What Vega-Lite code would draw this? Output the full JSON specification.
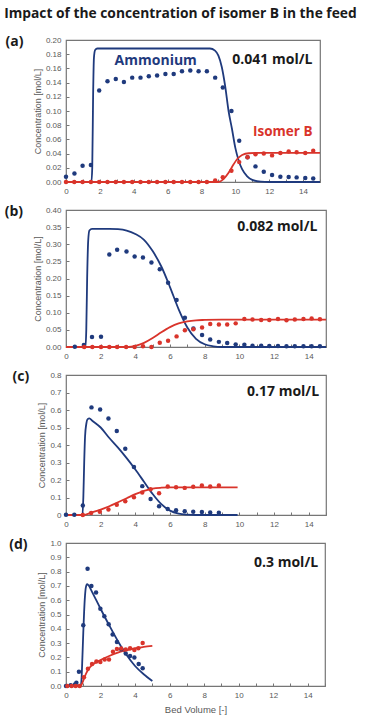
{
  "$schema": "https://vega.github.io/schema/vega-lite/v6.json",
  "background": "white",
  "padding": {"left": 4, "top": 6, "right": 4, "bottom": 4},
  "title": {"text": "Impact of the concentration of isomer B in the feed", "orient": "top", "anchor": "start", "frame": "bounds", "font": "Open Sans", "fontWeight": "bold", "fontSize": 13.8, "color": "#1a1a1a", "offset": 14},
  "spacing": 8,
  "align": "none",
  "config": {
    "view": {"stroke": "#767676", "strokeWidth": 1.2},
    "axis": {"domain": false, "grid": false, "tickColor": "#767676", "tickSize": -3, "tickCount": 30, "labelFont": "Liberation Sans", "labelFontSize": 8, "labelColor": "#595959", "labelPadding": 8, "labelOverlap": false, "labelFlush": false, "titleFont": "Liberation Sans", "titleFontSize": 9, "titleFontWeight": "normal", "titleColor": "#595959", "titlePadding": 3},
    "circle": {"size": 20, "opacity": 1},
    "line": {"strokeWidth": 1.8, "interpolate": "monotone"},
    "text": {"font": "Open Sans", "fontWeight": "bold", "fontSize": 14, "color": "#1a1a1a"}
  },
  "vconcat": [
    {
      "width": 254, "height": 142,
      "title": {"text": "(a)", "font": "Open Sans", "fontWeight": "bold", "fontSize": 14, "color": "#1a1a1a", "orient": "left", "anchor": "end", "angle": 0, "align": "right", "baseline": "top", "offset": -8, "dy": -1},
      "layer": [
        {
          "data": {"values": [
            {"s": "Ammonium", "x": 0, "c": 0}, {"s": "Ammonium", "x": 1.5, "c": 0}, {"s": "Ammonium", "x": 1.55, "c": 0.02}, {"s": "Ammonium", "x": 1.6, "c": 0.12}, {"s": "Ammonium", "x": 1.65, "c": 0.175}, {"s": "Ammonium", "x": 1.72, "c": 0.186}, {"s": "Ammonium", "x": 1.85, "c": 0.188}, {"s": "Ammonium", "x": 8.5, "c": 0.188}, {"s": "Ammonium", "x": 8.8, "c": 0.185}, {"s": "Ammonium", "x": 9.0, "c": 0.178}, {"s": "Ammonium", "x": 9.2, "c": 0.162}, {"s": "Ammonium", "x": 9.4, "c": 0.135}, {"s": "Ammonium", "x": 9.6, "c": 0.1}, {"s": "Ammonium", "x": 9.8, "c": 0.075}, {"s": "Ammonium", "x": 10.0, "c": 0.048}, {"s": "Ammonium", "x": 10.2, "c": 0.03}, {"s": "Ammonium", "x": 10.4, "c": 0.018}, {"s": "Ammonium", "x": 10.7, "c": 0.008}, {"s": "Ammonium", "x": 11.0, "c": 0.003}, {"s": "Ammonium", "x": 11.5, "c": 0.0005}, {"s": "Ammonium", "x": 12, "c": 0}, {"s": "Ammonium", "x": 15, "c": 0},
            {"s": "Isomer B", "x": 0, "c": 0}, {"s": "Isomer B", "x": 9.0, "c": 0}, {"s": "Isomer B", "x": 9.3, "c": 0.004}, {"s": "Isomer B", "x": 9.6, "c": 0.013}, {"s": "Isomer B", "x": 9.9, "c": 0.025}, {"s": "Isomer B", "x": 10.1, "c": 0.032}, {"s": "Isomer B", "x": 10.4, "c": 0.038}, {"s": "Isomer B", "x": 10.8, "c": 0.0405}, {"s": "Isomer B", "x": 11.5, "c": 0.041}, {"s": "Isomer B", "x": 15, "c": 0.041}
          ]},
          "mark": {"type": "line"},
          "encoding": {
            "x": {"field": "x", "type": "quantitative", "scale": {"domain": [0, 15], "nice": false}, "axis": {"title": null, "format": "d", "values": [0,1,2,3,4,5,6,7,8,9,10,11,12,13,14,15], "labelExpr": "datum.value % 2 == 0 && datum.value < 15 ? datum.label : ''"}},
            "y": {"field": "c", "type": "quantitative", "scale": {"domain": [0, 0.2], "nice": false}, "axis": {"title": "Concentration [mol/L]", "values": [0,0.02,0.04,0.06,0.08,0.1,0.12,0.14,0.16,0.18,0.2], "format": ".2f"}},
            "color": {"field": "s", "type": "nominal", "scale": {"domain": ["Ammonium", "Isomer B"], "range": ["#1f3a7d", "#d9342b"]}, "legend": null},
            "detail": {"field": "s"}
          }
        },
        {
          "data": {"values": [
            {"s": "Ammonium", "x": 0, "c": 0.0075}, {"s": "Ammonium", "x": 0.5, "c": 0.012}, {"s": "Ammonium", "x": 0.98, "c": 0.023}, {"s": "Ammonium", "x": 1.47, "c": 0.024}, {"s": "Ammonium", "x": 1.96, "c": 0.129}, {"s": "Ammonium", "x": 2.45, "c": 0.142}, {"s": "Ammonium", "x": 2.94, "c": 0.145}, {"s": "Ammonium", "x": 3.42, "c": 0.141}, {"s": "Ammonium", "x": 3.91, "c": 0.147}, {"s": "Ammonium", "x": 4.4, "c": 0.147}, {"s": "Ammonium", "x": 4.89, "c": 0.149}, {"s": "Ammonium", "x": 5.38, "c": 0.15}, {"s": "Ammonium", "x": 5.87, "c": 0.152}, {"s": "Ammonium", "x": 6.36, "c": 0.152}, {"s": "Ammonium", "x": 6.85, "c": 0.156}, {"s": "Ammonium", "x": 7.34, "c": 0.157}, {"s": "Ammonium", "x": 7.83, "c": 0.156}, {"s": "Ammonium", "x": 8.32, "c": 0.156}, {"s": "Ammonium", "x": 8.81, "c": 0.147}, {"s": "Ammonium", "x": 9.26, "c": 0.133}, {"s": "Ammonium", "x": 9.77, "c": 0.1}, {"s": "Ammonium", "x": 10.23, "c": 0.058}, {"s": "Ammonium", "x": 10.72, "c": 0.035}, {"s": "Ammonium", "x": 11.19, "c": 0.022}, {"s": "Ammonium", "x": 11.68, "c": 0.0145}, {"s": "Ammonium", "x": 12.17, "c": 0.01}, {"s": "Ammonium", "x": 12.66, "c": 0.0075}, {"s": "Ammonium", "x": 13.15, "c": 0.007}, {"s": "Ammonium", "x": 13.62, "c": 0.0065}, {"s": "Ammonium", "x": 14.13, "c": 0.0056}, {"s": "Ammonium", "x": 14.6, "c": 0.005},
            {"s": "Isomer B", "x": 0, "c": 0}, {"s": "Isomer B", "x": 0.49, "c": 0}, {"s": "Isomer B", "x": 0.98, "c": 0}, {"s": "Isomer B", "x": 1.47, "c": 0}, {"s": "Isomer B", "x": 1.96, "c": 0}, {"s": "Isomer B", "x": 2.45, "c": 0}, {"s": "Isomer B", "x": 2.94, "c": 0}, {"s": "Isomer B", "x": 3.42, "c": 0}, {"s": "Isomer B", "x": 3.91, "c": 0}, {"s": "Isomer B", "x": 4.4, "c": 0}, {"s": "Isomer B", "x": 4.89, "c": 0}, {"s": "Isomer B", "x": 5.38, "c": 0}, {"s": "Isomer B", "x": 5.87, "c": 0}, {"s": "Isomer B", "x": 6.36, "c": 0}, {"s": "Isomer B", "x": 6.85, "c": 0}, {"s": "Isomer B", "x": 7.34, "c": 0}, {"s": "Isomer B", "x": 7.83, "c": 0}, {"s": "Isomer B", "x": 8.32, "c": 0}, {"s": "Isomer B", "x": 8.81, "c": 0.002}, {"s": "Isomer B", "x": 9.26, "c": 0.0066}, {"s": "Isomer B", "x": 9.77, "c": 0.016}, {"s": "Isomer B", "x": 10.23, "c": 0.028}, {"s": "Isomer B", "x": 10.72, "c": 0.035}, {"s": "Isomer B", "x": 11.19, "c": 0.039}, {"s": "Isomer B", "x": 11.68, "c": 0.04}, {"s": "Isomer B", "x": 12.17, "c": 0.0375}, {"s": "Isomer B", "x": 12.66, "c": 0.041}, {"s": "Isomer B", "x": 13.15, "c": 0.043}, {"s": "Isomer B", "x": 13.62, "c": 0.042}, {"s": "Isomer B", "x": 14.13, "c": 0.041}, {"s": "Isomer B", "x": 14.6, "c": 0.044}
          ]},
          "mark": {"type": "circle"},
          "encoding": {
            "x": {"field": "x", "type": "quantitative"},
            "y": {"field": "c", "type": "quantitative"},
            "color": {"field": "s", "type": "nominal", "legend": null}
          }
        },
        {
          "data": {"values": [{"x": 5.3, "c": 0.171, "t": "Ammonium"}]},
          "mark": {"type": "text", "fontSize": 14, "align": "center", "color": "#1f3a7d"},
          "encoding": {"x": {"field": "x", "type": "quantitative"}, "y": {"field": "c", "type": "quantitative"}, "text": {"field": "t"}}
        },
        {
          "data": {"values": [{"x": 12.8, "c": 0.071, "t": "Isomer B"}]},
          "mark": {"type": "text", "fontSize": 13.5, "align": "center", "color": "#d9342b"},
          "encoding": {"x": {"field": "x", "type": "quantitative"}, "y": {"field": "c", "type": "quantitative"}, "text": {"field": "t"}}
        },
        {
          "data": {"values": [{"x": 14.55, "c": 0.172, "t": "0.041 mol/L"}]},
          "mark": {"type": "text", "align": "right"},
          "encoding": {"x": {"field": "x", "type": "quantitative"}, "y": {"field": "c", "type": "quantitative"}, "text": {"field": "t"}}
        }
      ]
    },
    {
      "width": 260, "height": 137,
      "title": {"text": "(b)", "font": "Open Sans", "fontWeight": "bold", "fontSize": 14, "color": "#1a1a1a", "orient": "left", "anchor": "end", "angle": 0, "align": "right", "baseline": "top", "offset": -8, "dy": -1},
      "layer": [
        {
          "data": {"values": [
            {"s": "Ammonium", "x": 0, "c": 0}, {"s": "Ammonium", "x": 1.12, "c": 0}, {"s": "Ammonium", "x": 1.17, "c": 0.05}, {"s": "Ammonium", "x": 1.22, "c": 0.2}, {"s": "Ammonium", "x": 1.28, "c": 0.31}, {"s": "Ammonium", "x": 1.35, "c": 0.34}, {"s": "Ammonium", "x": 1.5, "c": 0.345}, {"s": "Ammonium", "x": 2.5, "c": 0.345}, {"s": "Ammonium", "x": 3.0, "c": 0.344}, {"s": "Ammonium", "x": 3.5, "c": 0.34}, {"s": "Ammonium", "x": 4.0, "c": 0.33}, {"s": "Ammonium", "x": 4.5, "c": 0.313}, {"s": "Ammonium", "x": 5.0, "c": 0.28}, {"s": "Ammonium", "x": 5.5, "c": 0.235}, {"s": "Ammonium", "x": 6.0, "c": 0.175}, {"s": "Ammonium", "x": 6.5, "c": 0.11}, {"s": "Ammonium", "x": 7.0, "c": 0.057}, {"s": "Ammonium", "x": 7.5, "c": 0.024}, {"s": "Ammonium", "x": 8.0, "c": 0.008}, {"s": "Ammonium", "x": 8.5, "c": 0.002}, {"s": "Ammonium", "x": 9, "c": 0}, {"s": "Ammonium", "x": 15, "c": 0},
            {"s": "Isomer B", "x": 0, "c": 0}, {"s": "Isomer B", "x": 3.6, "c": 0}, {"s": "Isomer B", "x": 4.0, "c": 0.003}, {"s": "Isomer B", "x": 4.5, "c": 0.012}, {"s": "Isomer B", "x": 5.0, "c": 0.026}, {"s": "Isomer B", "x": 5.5, "c": 0.043}, {"s": "Isomer B", "x": 6.0, "c": 0.058}, {"s": "Isomer B", "x": 6.5, "c": 0.069}, {"s": "Isomer B", "x": 7.0, "c": 0.075}, {"s": "Isomer B", "x": 7.5, "c": 0.078}, {"s": "Isomer B", "x": 8.0, "c": 0.079}, {"s": "Isomer B", "x": 9.0, "c": 0.08}, {"s": "Isomer B", "x": 15, "c": 0.08}
          ]},
          "mark": {"type": "line"},
          "encoding": {
            "x": {"field": "x", "type": "quantitative", "scale": {"domain": [0, 15], "nice": false}, "axis": {"title": null, "format": "d", "values": [0,1,2,3,4,5,6,7,8,9,10,11,12,13,14,15], "labelExpr": "datum.value % 2 == 0 && datum.value < 15 ? datum.label : ''"}},
            "y": {"field": "c", "type": "quantitative", "scale": {"domain": [0, 0.4], "nice": false}, "axis": {"title": "Concentration [mol/L]", "values": [0,0.05,0.1,0.15,0.2,0.25,0.3,0.35,0.4], "format": ".2f"}},
            "color": {"field": "s", "type": "nominal", "scale": {"domain": ["Ammonium", "Isomer B"], "range": ["#1f3a7d", "#d9342b"]}, "legend": null},
            "detail": {"field": "s"}
          }
        },
        {
          "data": {"values": [
            {"s": "Ammonium", "x": 0.51, "c": 0.001}, {"s": "Ammonium", "x": 1.03, "c": 0.006}, {"s": "Ammonium", "x": 1.5, "c": 0.029}, {"s": "Ammonium", "x": 2.02, "c": 0.03}, {"s": "Ammonium", "x": 2.5, "c": 0.27}, {"s": "Ammonium", "x": 2.95, "c": 0.284}, {"s": "Ammonium", "x": 3.49, "c": 0.279}, {"s": "Ammonium", "x": 3.96, "c": 0.264}, {"s": "Ammonium", "x": 4.44, "c": 0.261}, {"s": "Ammonium", "x": 4.93, "c": 0.247}, {"s": "Ammonium", "x": 5.41, "c": 0.227}, {"s": "Ammonium", "x": 5.89, "c": 0.1875}, {"s": "Ammonium", "x": 6.38, "c": 0.1375}, {"s": "Ammonium", "x": 6.86, "c": 0.0856}, {"s": "Ammonium", "x": 7.35, "c": 0.054}, {"s": "Ammonium", "x": 7.85, "c": 0.035}, {"s": "Ammonium", "x": 8.32, "c": 0.022}, {"s": "Ammonium", "x": 8.82, "c": 0.015}, {"s": "Ammonium", "x": 9.3, "c": 0.0115}, {"s": "Ammonium", "x": 9.79, "c": 0.0077}, {"s": "Ammonium", "x": 10.29, "c": 0.0067}, {"s": "Ammonium", "x": 10.76, "c": 0.004}, {"s": "Ammonium", "x": 11.26, "c": 0.004}, {"s": "Ammonium", "x": 11.73, "c": 0.003}, {"s": "Ammonium", "x": 12.23, "c": 0.003}, {"s": "Ammonium", "x": 12.72, "c": 0.002}, {"s": "Ammonium", "x": 13.2, "c": 0.002}, {"s": "Ammonium", "x": 13.7, "c": 0.002}, {"s": "Ammonium", "x": 14.17, "c": 0.002}, {"s": "Ammonium", "x": 14.65, "c": 0.002},
            {"s": "Isomer B", "x": 1.05, "c": 0}, {"s": "Isomer B", "x": 1.52, "c": 0}, {"s": "Isomer B", "x": 2.02, "c": 0}, {"s": "Isomer B", "x": 2.5, "c": 0}, {"s": "Isomer B", "x": 2.95, "c": 0}, {"s": "Isomer B", "x": 3.47, "c": 0}, {"s": "Isomer B", "x": 3.96, "c": 0}, {"s": "Isomer B", "x": 4.44, "c": 0.002}, {"s": "Isomer B", "x": 4.93, "c": 0}, {"s": "Isomer B", "x": 5.41, "c": 0.0125}, {"s": "Isomer B", "x": 5.89, "c": 0.018}, {"s": "Isomer B", "x": 6.38, "c": 0.031}, {"s": "Isomer B", "x": 6.86, "c": 0.049}, {"s": "Isomer B", "x": 7.35, "c": 0.052}, {"s": "Isomer B", "x": 7.85, "c": 0.057}, {"s": "Isomer B", "x": 8.32, "c": 0.067}, {"s": "Isomer B", "x": 8.82, "c": 0.066}, {"s": "Isomer B", "x": 9.3, "c": 0.066}, {"s": "Isomer B", "x": 9.79, "c": 0.069}, {"s": "Isomer B", "x": 10.29, "c": 0.082}, {"s": "Isomer B", "x": 10.76, "c": 0.08}, {"s": "Isomer B", "x": 11.26, "c": 0.079}, {"s": "Isomer B", "x": 11.73, "c": 0.079}, {"s": "Isomer B", "x": 12.23, "c": 0.082}, {"s": "Isomer B", "x": 12.72, "c": 0.078}, {"s": "Isomer B", "x": 13.2, "c": 0.08}, {"s": "Isomer B", "x": 13.7, "c": 0.082}, {"s": "Isomer B", "x": 14.17, "c": 0.083}, {"s": "Isomer B", "x": 14.65, "c": 0.081}
          ]},
          "mark": {"type": "circle"},
          "encoding": {
            "x": {"field": "x", "type": "quantitative"},
            "y": {"field": "c", "type": "quantitative"},
            "color": {"field": "s", "type": "nominal", "legend": null}
          }
        },
        {
          "data": {"values": [{"x": 14.5, "c": 0.349, "t": "0.082 mol/L"}]},
          "mark": {"type": "text", "align": "right"},
          "encoding": {"x": {"field": "x", "type": "quantitative"}, "y": {"field": "c", "type": "quantitative"}, "text": {"field": "t"}}
        }
      ]
    },
    {
      "width": 260, "height": 140,
      "title": {"text": "(c)", "font": "Open Sans", "fontWeight": "bold", "fontSize": 14, "color": "#1a1a1a", "orient": "left", "anchor": "end", "angle": 0, "align": "right", "baseline": "top", "offset": -8, "dy": -1},
      "layer": [
        {
          "data": {"values": [
            {"s": "Ammonium", "x": 0, "c": 0}, {"s": "Ammonium", "x": 0.95, "c": 0}, {"s": "Ammonium", "x": 1.0, "c": 0.1}, {"s": "Ammonium", "x": 1.05, "c": 0.3}, {"s": "Ammonium", "x": 1.1, "c": 0.45}, {"s": "Ammonium", "x": 1.17, "c": 0.52}, {"s": "Ammonium", "x": 1.25, "c": 0.548}, {"s": "Ammonium", "x": 1.35, "c": 0.552}, {"s": "Ammonium", "x": 1.5, "c": 0.54}, {"s": "Ammonium", "x": 2.0, "c": 0.5}, {"s": "Ammonium", "x": 2.5, "c": 0.44}, {"s": "Ammonium", "x": 3.0, "c": 0.385}, {"s": "Ammonium", "x": 3.5, "c": 0.325}, {"s": "Ammonium", "x": 4.0, "c": 0.26}, {"s": "Ammonium", "x": 4.5, "c": 0.19}, {"s": "Ammonium", "x": 5.0, "c": 0.12}, {"s": "Ammonium", "x": 5.5, "c": 0.062}, {"s": "Ammonium", "x": 6.0, "c": 0.025}, {"s": "Ammonium", "x": 6.5, "c": 0.008}, {"s": "Ammonium", "x": 7.0, "c": 0.002}, {"s": "Ammonium", "x": 7.5, "c": 0}, {"s": "Ammonium", "x": 9.9, "c": 0},
            {"s": "Isomer B", "x": 0, "c": 0}, {"s": "Isomer B", "x": 1.0, "c": 0}, {"s": "Isomer B", "x": 1.5, "c": 0.015}, {"s": "Isomer B", "x": 2.0, "c": 0.031}, {"s": "Isomer B", "x": 2.5, "c": 0.05}, {"s": "Isomer B", "x": 3.0, "c": 0.073}, {"s": "Isomer B", "x": 3.5, "c": 0.096}, {"s": "Isomer B", "x": 4.0, "c": 0.119}, {"s": "Isomer B", "x": 4.5, "c": 0.138}, {"s": "Isomer B", "x": 5.0, "c": 0.151}, {"s": "Isomer B", "x": 5.5, "c": 0.156}, {"s": "Isomer B", "x": 6.0, "c": 0.158}, {"s": "Isomer B", "x": 7.0, "c": 0.158}, {"s": "Isomer B", "x": 9.9, "c": 0.158}
          ]},
          "mark": {"type": "line"},
          "encoding": {
            "x": {"field": "x", "type": "quantitative", "scale": {"domain": [0, 15], "nice": false}, "axis": {"title": null, "format": "d", "values": [0,1,2,3,4,5,6,7,8,9,10,11,12,13,14,15], "labelExpr": "datum.value % 2 == 0 && datum.value < 15 ? datum.label : ''"}},
            "y": {"field": "c", "type": "quantitative", "scale": {"domain": [0, 0.8], "nice": false}, "axis": {"title": "Concentration [mol/L]", "values": [0,0.1,0.2,0.3,0.4,0.5,0.6,0.7,0.8], "labelExpr": "datum.value == 0 ? '0' : format(datum.value, '.1f')"}},
            "color": {"field": "s", "type": "nominal", "scale": {"domain": ["Ammonium", "Isomer B"], "range": ["#1f3a7d", "#d9342b"]}, "legend": null},
            "detail": {"field": "s"}
          }
        },
        {
          "data": {"values": [
            {"s": "Ammonium", "x": 0, "c": 0.002}, {"s": "Ammonium", "x": 0.48, "c": 0.002}, {"s": "Ammonium", "x": 0.97, "c": 0.054}, {"s": "Ammonium", "x": 1.47, "c": 0.615}, {"s": "Ammonium", "x": 1.97, "c": 0.603}, {"s": "Ammonium", "x": 2.45, "c": 0.551}, {"s": "Ammonium", "x": 2.93, "c": 0.48}, {"s": "Ammonium", "x": 3.42, "c": 0.379}, {"s": "Ammonium", "x": 3.92, "c": 0.274}, {"s": "Ammonium", "x": 4.4, "c": 0.165}, {"s": "Ammonium", "x": 4.88, "c": 0.092}, {"s": "Ammonium", "x": 5.37, "c": 0.05}, {"s": "Ammonium", "x": 5.87, "c": 0.034}, {"s": "Ammonium", "x": 6.35, "c": 0.027}, {"s": "Ammonium", "x": 6.85, "c": 0.021}, {"s": "Ammonium", "x": 7.34, "c": 0.019}, {"s": "Ammonium", "x": 7.84, "c": 0.017}, {"s": "Ammonium", "x": 8.32, "c": 0.015}, {"s": "Ammonium", "x": 8.82, "c": 0.013},
            {"s": "Isomer B", "x": 0.97, "c": 0}, {"s": "Isomer B", "x": 1.45, "c": 0.011}, {"s": "Isomer B", "x": 1.95, "c": 0.019}, {"s": "Isomer B", "x": 2.45, "c": 0.031}, {"s": "Isomer B", "x": 2.93, "c": 0.059}, {"s": "Isomer B", "x": 3.42, "c": 0.078}, {"s": "Isomer B", "x": 3.92, "c": 0.101}, {"s": "Isomer B", "x": 4.4, "c": 0.128}, {"s": "Isomer B", "x": 4.88, "c": 0.147}, {"s": "Isomer B", "x": 5.37, "c": 0.124}, {"s": "Isomer B", "x": 5.87, "c": 0.163}, {"s": "Isomer B", "x": 6.35, "c": 0.159}, {"s": "Isomer B", "x": 6.85, "c": 0.155}, {"s": "Isomer B", "x": 7.34, "c": 0.161}, {"s": "Isomer B", "x": 7.84, "c": 0.168}, {"s": "Isomer B", "x": 8.32, "c": 0.163}, {"s": "Isomer B", "x": 8.82, "c": 0.168}
          ]},
          "mark": {"type": "circle"},
          "encoding": {
            "x": {"field": "x", "type": "quantitative"},
            "y": {"field": "c", "type": "quantitative"},
            "color": {"field": "s", "type": "nominal", "legend": null}
          }
        },
        {
          "data": {"values": [{"x": 14.6, "c": 0.704, "t": "0.17 mol/L"}]},
          "mark": {"type": "text", "align": "right"},
          "encoding": {"x": {"field": "x", "type": "quantitative"}, "y": {"field": "c", "type": "quantitative"}, "text": {"field": "t"}}
        }
      ]
    },
    {
      "width": 259, "height": 143,
      "title": {"text": "(d)", "font": "Open Sans", "fontWeight": "bold", "fontSize": 14, "color": "#1a1a1a", "orient": "left", "anchor": "end", "angle": 0, "align": "right", "baseline": "top", "offset": -8, "dy": -1},
      "layer": [
        {
          "data": {"values": [
            {"s": "Ammonium", "x": 0, "c": 0}, {"s": "Ammonium", "x": 0.85, "c": 0}, {"s": "Ammonium", "x": 0.9, "c": 0.05}, {"s": "Ammonium", "x": 0.95, "c": 0.2}, {"s": "Ammonium", "x": 1.0, "c": 0.37}, {"s": "Ammonium", "x": 1.05, "c": 0.52}, {"s": "Ammonium", "x": 1.1, "c": 0.63}, {"s": "Ammonium", "x": 1.15, "c": 0.69}, {"s": "Ammonium", "x": 1.22, "c": 0.712}, {"s": "Ammonium", "x": 1.3, "c": 0.705}, {"s": "Ammonium", "x": 1.5, "c": 0.66}, {"s": "Ammonium", "x": 2.0, "c": 0.54}, {"s": "Ammonium", "x": 2.5, "c": 0.425}, {"s": "Ammonium", "x": 3.0, "c": 0.315}, {"s": "Ammonium", "x": 3.5, "c": 0.218}, {"s": "Ammonium", "x": 4.0, "c": 0.14}, {"s": "Ammonium", "x": 4.5, "c": 0.082}, {"s": "Ammonium", "x": 5.0, "c": 0.035},
            {"s": "Isomer B", "x": 0, "c": 0}, {"s": "Isomer B", "x": 0.85, "c": 0}, {"s": "Isomer B", "x": 0.95, "c": 0.023}, {"s": "Isomer B", "x": 1.1, "c": 0.07}, {"s": "Isomer B", "x": 1.3, "c": 0.117}, {"s": "Isomer B", "x": 1.5, "c": 0.145}, {"s": "Isomer B", "x": 2.0, "c": 0.182}, {"s": "Isomer B", "x": 2.5, "c": 0.21}, {"s": "Isomer B", "x": 3.0, "c": 0.234}, {"s": "Isomer B", "x": 3.5, "c": 0.25}, {"s": "Isomer B", "x": 4.0, "c": 0.264}, {"s": "Isomer B", "x": 4.5, "c": 0.273}, {"s": "Isomer B", "x": 5.0, "c": 0.28}
          ]},
          "mark": {"type": "line"},
          "encoding": {
            "x": {"field": "x", "type": "quantitative", "scale": {"domain": [0, 15], "nice": false}, "axis": {"title": "Bed Volume [-]", "titleFontSize": 9.5, "titlePadding": 5, "format": "d", "values": [0,1,2,3,4,5,6,7,8,9,10,11,12,13,14,15], "labelExpr": "datum.value % 2 == 0 && datum.value < 15 ? datum.label : ''"}},
            "y": {"field": "c", "type": "quantitative", "scale": {"domain": [0, 1.0], "nice": false}, "axis": {"title": "Concentration [mol/L]", "values": [0,0.1,0.2,0.3,0.4,0.5,0.6,0.7,0.8,0.9,1.0], "format": ".1f"}},
            "color": {"field": "s", "type": "nominal", "scale": {"domain": ["Ammonium", "Isomer B"], "range": ["#1f3a7d", "#d9342b"]}, "legend": null},
            "detail": {"field": "s"}
          }
        },
        {
          "data": {"values": [
            {"s": "Ammonium", "x": 0, "c": 0}, {"s": "Ammonium", "x": 0.27, "c": 0.005}, {"s": "Ammonium", "x": 0.52, "c": 0.01}, {"s": "Ammonium", "x": 0.6, "c": 0.023}, {"s": "Ammonium", "x": 0.75, "c": 0.1}, {"s": "Ammonium", "x": 1.0, "c": 0.425}, {"s": "Ammonium", "x": 1.25, "c": 0.82}, {"s": "Ammonium", "x": 1.47, "c": 0.7}, {"s": "Ammonium", "x": 1.74, "c": 0.654}, {"s": "Ammonium", "x": 1.99, "c": 0.54}, {"s": "Ammonium", "x": 2.22, "c": 0.488}, {"s": "Ammonium", "x": 2.47, "c": 0.432}, {"s": "Ammonium", "x": 2.7, "c": 0.36}, {"s": "Ammonium", "x": 2.95, "c": 0.308}, {"s": "Ammonium", "x": 3.2, "c": 0.257}, {"s": "Ammonium", "x": 3.46, "c": 0.227}, {"s": "Ammonium", "x": 3.71, "c": 0.21}, {"s": "Ammonium", "x": 3.96, "c": 0.199}, {"s": "Ammonium", "x": 4.21, "c": 0.154}, {"s": "Ammonium", "x": 4.44, "c": 0.124},
            {"s": "Isomer B", "x": 0.08, "c": 0}, {"s": "Isomer B", "x": 0.33, "c": 0}, {"s": "Isomer B", "x": 0.56, "c": 0}, {"s": "Isomer B", "x": 0.79, "c": 0}, {"s": "Isomer B", "x": 1.04, "c": 0.061}, {"s": "Isomer B", "x": 1.27, "c": 0.121}, {"s": "Isomer B", "x": 1.51, "c": 0.154}, {"s": "Isomer B", "x": 1.76, "c": 0.171}, {"s": "Isomer B", "x": 1.99, "c": 0.168}, {"s": "Isomer B", "x": 2.24, "c": 0.185}, {"s": "Isomer B", "x": 2.49, "c": 0.185}, {"s": "Isomer B", "x": 2.72, "c": 0.24}, {"s": "Isomer B", "x": 2.95, "c": 0.259}, {"s": "Isomer B", "x": 3.2, "c": 0.262}, {"s": "Isomer B", "x": 3.46, "c": 0.255}, {"s": "Isomer B", "x": 3.71, "c": 0.264}, {"s": "Isomer B", "x": 3.96, "c": 0.252}, {"s": "Isomer B", "x": 4.19, "c": 0.264}, {"s": "Isomer B", "x": 4.44, "c": 0.301}
          ]},
          "mark": {"type": "circle"},
          "encoding": {
            "x": {"field": "x", "type": "quantitative"},
            "y": {"field": "c", "type": "quantitative"},
            "color": {"field": "s", "type": "nominal", "legend": null}
          }
        },
        {
          "data": {"values": [{"x": 14.6, "c": 0.86, "t": "0.3 mol/L"}]},
          "mark": {"type": "text", "align": "right"},
          "encoding": {"x": {"field": "x", "type": "quantitative"}, "y": {"field": "c", "type": "quantitative"}, "text": {"field": "t"}}
        }
      ]
    }
  ]
}
